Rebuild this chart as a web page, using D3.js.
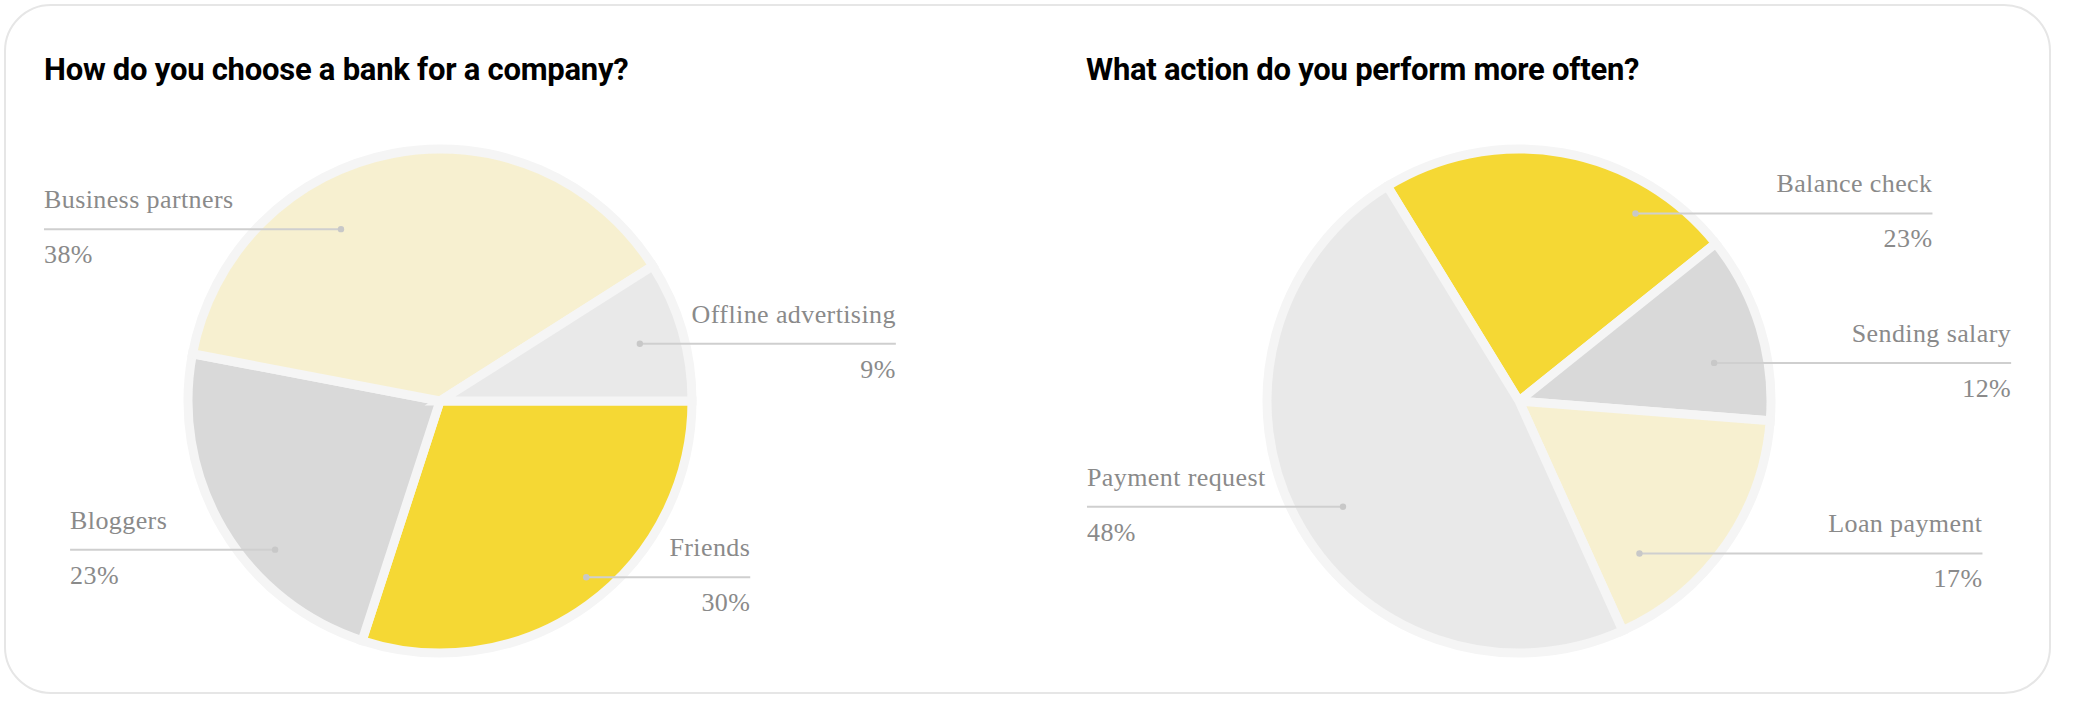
<!DOCTYPE html>
<html>
<head>
<meta charset="utf-8">
<script src="https://cdn.jsdelivr.net/npm/d3@7"></script>
<style>
  html, body { margin: 0; padding: 0; background: #ffffff; }
  svg { display: block; }
  .title { font-family: Roboto, "Liberation Sans", Arial, sans-serif; font-weight: 700; font-size: 31px; fill: #000; letter-spacing: -0.25px; }
  .lbl { font-family: "Liberation Serif", "DejaVu Serif", serif; font-size: 26px; fill: #8a8a8a; letter-spacing: 0.4px; }
</style>
</head>
<body>
<svg id="chart" width="2080" height="708"></svg>
<script>
// ---- data ----
const title1 = "How do you choose a bank for a company?";
const categories1 = ["Friends", "Bloggers", "Business partners", "Offline advertising"];
const values1 = [30, 23, 38, 9];

const title2 = "What action do you perform more often?";
const categories2 = ["Balance check", "Sending salary", "Loan payment", "Payment request"];
const values2 = [23, 12, 17, 48];

// ---- styles ----
const colors1 = ["#f5d834", "#d9d9d9", "#f7f0d0", "#e9e9e9"];
const colors2 = ["#f5d834", "#d9d9d9", "#f7f0d0", "#e9e9e9"];

// ---- label layout (dot = fraction through slice angle t, fraction of radius rf; leader length; side) ----
const labelLayout1 = [
  { t: 0.466, rf: 0.909, len: 164, side: "right" },
  { t: 0.362, rf: 0.881, len: 205, side: "left" },
  { t: 0.360, rf: 0.787, len: 297, side: "left" },
  { t: 0.506, rf: 0.825, len: 256, side: "right" }
];
const labelLayout2 = [
  { t: 0.765, rf: 0.876, len: 297, side: "right" },
  { t: 0.640, rf: 0.789, len: 297, side: "right" },
  { t: 0.771, rf: 0.771, len: 343, side: "right" },
  { t: 0.482, rf: 0.815, len: 256, side: "left" }
];

const svg = d3.select("#chart");
const R = 252;

// card
svg.append("rect")
  .attr("x", 5).attr("y", 5)
  .attr("width", 2045).attr("height", 688)
  .attr("rx", 46).attr("ry", 46)
  .attr("fill", "#ffffff")
  .attr("stroke", "#e6e6e6")
  .attr("stroke-width", 2);

function drawPanel(opts) {
  const g = svg.append("g");
  g.append("text")
    .attr("class", "title")
    .attr("x", opts.titleX).attr("y", 80)
    .text(opts.title);

  const data = opts.categories.map((c, i) => ({ name: c, value: opts.values[i], color: opts.colors[i], layout: opts.layout[i] }));
  const pie = d3.pie().sort(null).value(d => d.value)
    .startAngle(opts.start).endAngle(opts.start + 2 * Math.PI);
  const arcs = pie(data);
  const arc = d3.arc().innerRadius(0).outerRadius(R);

  const pg = g.append("g").attr("transform", `translate(${opts.cx},${opts.cy})`);
  pg.selectAll("path.slice")
    .data(arcs)
    .join("path")
    .attr("class", "slice")
    .attr("d", arc)
    .attr("fill", d => d.data.color)
    .attr("stroke", "#f5f5f5")
    .attr("stroke-width", 9)
    .attr("stroke-linejoin", "miter");

  const lg = pg.append("g");
  arcs.forEach(a => {
    const L = a.data.layout;
    const ang = a.startAngle + L.t * (a.endAngle - a.startAngle);
    const [dx, dy] = d3.pointRadial(ang, L.rf * R);
    const ex = L.side === "left" ? dx - L.len : dx + L.len;
    lg.append("line")
      .attr("x1", dx).attr("y1", dy).attr("x2", ex).attr("y2", dy)
      .attr("stroke", "#cfcfcf").attr("stroke-width", 2);
    lg.append("circle")
      .attr("cx", dx).attr("cy", dy).attr("r", 3.2)
      .attr("fill", "#c8c8c8");
    const anchor = L.side === "left" ? "start" : "end";
    lg.append("text").attr("class", "lbl")
      .attr("x", ex).attr("y", dy - 21)
      .attr("text-anchor", anchor)
      .text(a.data.name);
    lg.append("text").attr("class", "lbl")
      .attr("x", ex).attr("y", dy + 34)
      .attr("text-anchor", anchor)
      .text(d3.format("d")(a.data.value) + "%");
  });
}

drawPanel({
  title: title1, titleX: 44,
  categories: categories1, values: values1, colors: colors1, layout: labelLayout1,
  cx: 440, cy: 401, start: Math.PI / 2
});
drawPanel({
  title: title2, titleX: 1086,
  categories: categories2, values: values2, colors: colors2, layout: labelLayout2,
  cx: 1519, cy: 401, start: -31.5 * Math.PI / 180
});
</script>
</body>
</html>
